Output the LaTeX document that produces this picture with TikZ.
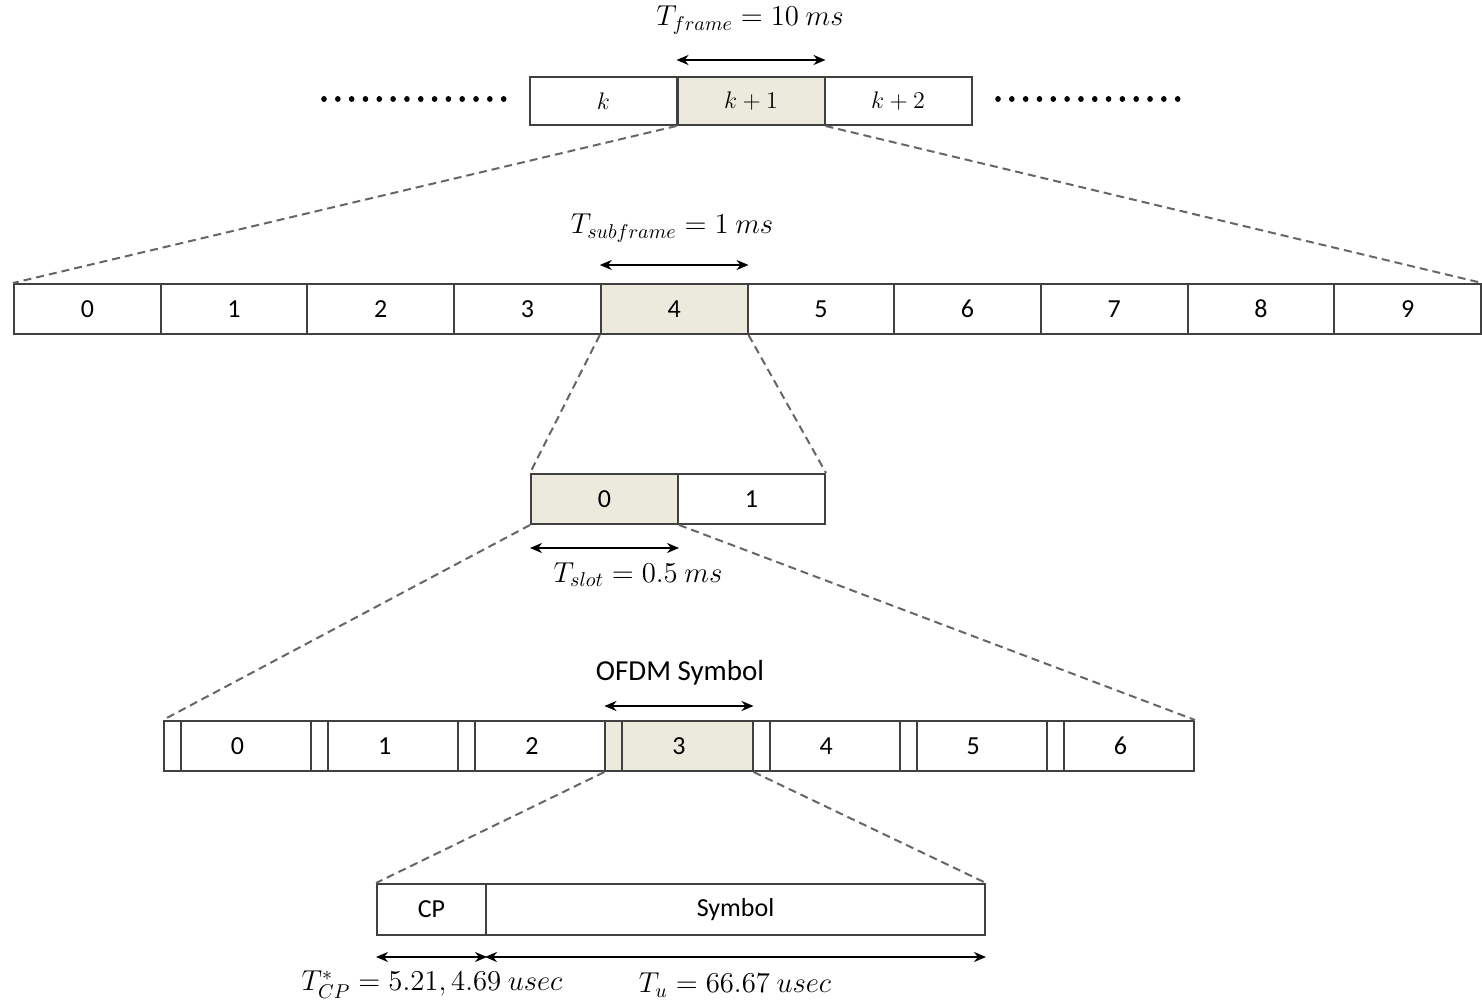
\documentclass[tikz,border=0pt]{standalone}
\usepackage{fontspec}
\setmainfont{Carlito}
\usepackage{amsmath}
\usetikzlibrary{arrows.meta,positioning}
\definecolor{shade}{RGB}{236,234,221}
\tikzset{
  cell/.style={draw=black!75, line width=1pt, inner sep=0pt, minimum height=25pt,
    font=\fontsize{13}{15}\selectfont},
  dim/.style={{Stealth[length=6pt,width=5pt]}-{Stealth[length=6pt,width=5pt]}, line width=1pt},
  zoomline/.style={black!60, line width=1pt, dash pattern=on 4pt off 2.5pt},
  dotrow/.style={line width=2.8pt, line cap=round, dash pattern=on 0.01pt off 6.9pt},
  lbl/.style={font=\fontsize{14.5}{16}\selectfont, inner sep=1pt},
}
\begin{document}
\begin{tikzpicture}[x=0.5pt, y=-0.5pt]
    \useasboundingbox (0,0) rectangle (1482,1004);
    \node[cell, minimum width=73.5pt, minimum height=24pt] (k0) at (603.5,101) {$k$};
    \node[cell, minimum width=73.5pt, minimum height=24pt, fill=shade] (k1) at (751,101) {$k+1$};
    \node[cell, minimum width=73.5pt, minimum height=24pt] (k2) at (898,101) {$k+2$};
    \coordinate (dl1) at (324,99);  \coordinate (dl2) at (515,99);
    \coordinate (dr1) at (998,99);  \coordinate (dr2) at (1190,99);
    \draw[dotrow] (dl1) -- (dl2);
    \draw[dotrow] (dr1) -- (dr2);
    \draw[dim] ([yshift=8pt]k1.north west) -- ([yshift=8pt]k1.north east);
    \node[lbl] (tframe) at (750,20) {$T_{frame} = 10\ ms$};
    \foreach \i in {0,...,9}{
        \ifnum\i=4 \def\fc{shade}\else\def\fc{white}\fi
        \node[cell, minimum width=73.35pt, fill=\fc] (f\i) at ({14+146.7*(\i+0.5)},309) {\i};
    }
    \draw[dim] ([yshift=9pt]f4.north west) -- ([yshift=9pt]f4.north east);
    \node[lbl] (tsub) at (672,228) {$T_{subframe} = 1\ ms$};
    \draw[zoomline] (k1.south west) -- (f0.north west);
    \draw[zoomline] (k1.south east) -- (f9.north east);
    \node[cell, minimum width=73.5pt, fill=shade] (p0) at (604.5,499) {0};
    \node[cell, minimum width=73.5pt] (p1) at (751.5,499) {1};
    \draw[zoomline] (f4.south west) -- (p0.north west);
    \draw[zoomline] (f4.south east) -- (p1.north east);
    \draw[dim] ([yshift=-11.5pt]p0.south west) -- ([yshift=-11.5pt]p0.south east);
    \node[lbl] (tslot) at (638,575) {$T_{slot} = 0.5\ ms$};
    \foreach \i in {0,...,6}{
        \ifnum\i=3 \def\fc{shade}\else\def\fc{white}\fi
        \node[cell, minimum width=73.57pt, fill=\fc] (s\i) at ({164+147.14*(\i+0.5)},746) {\i};
        \node[cell, minimum width=8.5pt, anchor=west, fill=\fc] (c\i) at (s\i.west) {};
    }
    \draw[zoomline] (p0.south west) -- (s0.north west);
    \draw[zoomline] (p0.south east) -- (s6.north east);
    \draw[dim] ([yshift=7pt]s3.north west) -- ([yshift=7pt]s3.north east);
    \node[lbl] (tofdm) at (680,673) {OFDM Symbol};
    \node[cell, minimum width=54.5pt, minimum height=25.5pt] (cp) at (431.5,909.5) {CP};
    \node[cell, minimum width=249.5pt, minimum height=25.5pt] (sym) at (735.5,909.5) {Symbol};
    \draw[zoomline] (s3.south west) -- (cp.north west);
    \draw[zoomline] (s3.south east) -- (sym.north east);
    \draw[dim] ([yshift=-10.5pt]cp.south west) -- ([yshift=-10.5pt]cp.south east);
    \draw[dim] ([yshift=-10.5pt]sym.south west) -- ([yshift=-10.5pt]sym.south east);
    \node[lbl] (tcp) at (432,985) {$T_{CP}^{*} = 5.21, 4.69\ usec$};
    \node[lbl] (tu) at (735,985) {$T_{u} = 66.67\ usec$};
\end{tikzpicture}
\end{document}
